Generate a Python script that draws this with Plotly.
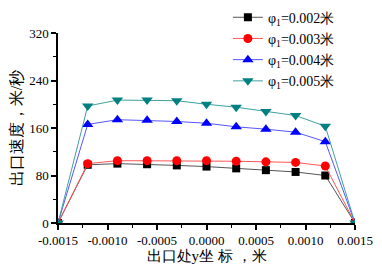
import plotly.graph_objects as go

x = [-0.0015, -0.0012, -0.0009, -0.0006, -0.0003, 0.0, 0.0003, 0.0006, 0.0009, 0.0012, 0.0015]
v_002 = [0, 98, 100, 99, 97, 95, 92, 89, 86, 80, 0]
v_003 = [0, 100, 105, 105, 105, 105, 104, 103, 102, 96, 0]
v_004 = [0, 166, 174, 173, 171, 168, 162, 158, 153, 137, 0]
v_005 = [0, 197, 207, 207, 206, 200, 195, 188, 181, 163, 0]
names = ["φ<sub>1</sub>=0.002米", "φ<sub>1</sub>=0.003米", "φ<sub>1</sub>=0.004米", "φ<sub>1</sub>=0.005米"]
x_ticks = [-0.0015, -0.001, -0.0005, 0, 0.0005, 0.001, 0.0015]
x_ticktext = ["-0.0015", "-0.0010", "-0.0005", "0.0000", "0.0005", "0.0010", "0.0015"]
y_ticks = [0, 80, 160, 240, 320]

series = [v_002, v_003, v_004, v_005]
line_colors = ["#555555", "#ff5555", "#5555ff", "#40a0a0"]
marker_colors = ["#000000", "#ff0000", "#0000ff", "#008080"]
symbols = ["square", "circle", "triangle-up", "triangle-down"]
msizes = [8, 9, 10, 10]

FONT = "Liberation Serif, Times New Roman, serif"

fig = go.Figure()
for s, n, lc, mc, sym, ms in zip(series, names, line_colors, marker_colors, symbols, msizes):
    fig.add_trace(go.Scatter(
        x=x, y=s, name=n, mode="lines+markers",
        line=dict(color=lc, width=1),
        marker=dict(color=mc, symbol=sym, size=ms, line=dict(width=0)),
        cliponaxis=True,
    ))

# page body has an 8px default margin, so the figure is 8px smaller on each axis
fig.update_layout(
    width=374, height=261,
    margin=dict(l=50, r=27, t=25, b=46, autoexpand=False),
    paper_bgcolor="white", plot_bgcolor="white",
    font=dict(family=FONT, size=13, color="black"),
    legend=dict(x=0.572, y=1.165, xanchor="left", yanchor="top",
                bgcolor="rgba(0,0,0,0)", font=dict(size=14),
                tracegroupgap=0, itemwidth=30),
    xaxis=dict(range=[-0.0015, 0.0015], tickvals=x_ticks, ticktext=x_ticktext,
               ticks="outside", ticklen=5, tickwidth=1.5, tickcolor="black", automargin=True,
               minor=dict(dtick=0.00025, tick0=-0.0015, ticks="outside", ticklen=3, tickcolor="black", tickwidth=1),
               showline=True, linecolor="black", linewidth=1.5, showgrid=False, zeroline=False,
               title=dict(text="出口处y坐 标 ，米", font=dict(size=15), standoff=1)),
    yaxis=dict(range=[0, 320], tickvals=y_ticks, automargin=True,
               ticks="outside", ticklen=5, tickwidth=1.5, tickcolor="black",
               minor=dict(dtick=40, tick0=0, ticks="outside", ticklen=3, tickcolor="black", tickwidth=1),
               showline=True, linecolor="black", linewidth=1.5, showgrid=False, zeroline=False,
               title=dict(text="出口速度，米/秒", font=dict(size=16), standoff=6)),
)

fig.write_html("out.html")
